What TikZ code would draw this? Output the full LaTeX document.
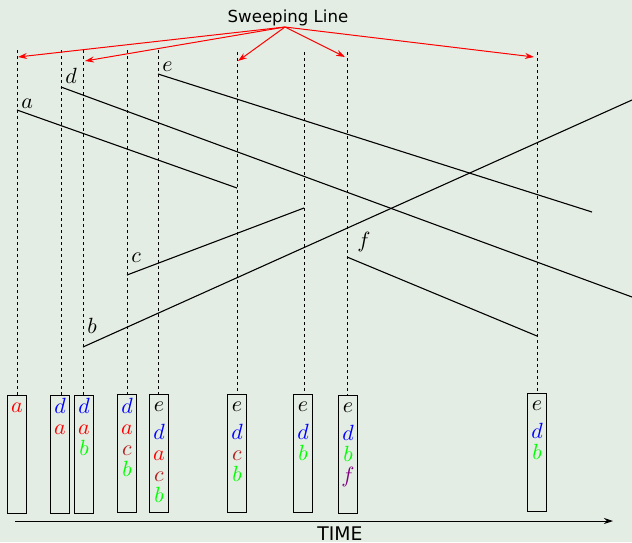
\RequirePackage{fix-cm}
\documentclass[tikz,border=0pt]{standalone}
\usepackage{fontspec}
\usepackage{tikz}
\usetikzlibrary{calc,arrows.meta}

\newfontfamily\labelfont{DejaVu Sans}
\definecolor{bg}{RGB}{228,237,228}
\definecolor{cred}{RGB}{180,30,30}

\tikzset{
  evline/.style={dash pattern=on 1.6pt off 1.4pt, line width=0.5pt},
  seg/.style={line width=0.55pt},
  evbox/.style={draw, line width=0.55pt, anchor=north, minimum width=9.5pt,
    minimum height=59pt, inner sep=0pt},
  slot/.style={anchor=base, inner sep=0pt, font=\fontsize{11}{13}\selectfont},
  lbl/.style={anchor=base west, inner sep=0pt, font=\fontsize{11}{13}\selectfont},
  sweeparrow/.style={->, red, line width=0.5pt},
}

\begin{document}
\begin{tikzpicture}[x=0.5pt, y=-0.5pt, >={Stealth[length=4.5pt,width=3pt]}]

% Canvas (pixel units, y down)
\useasboundingbox (0,0) rectangle (632,542);
\fill[bg] (0,0) rectangle (632,542);

% Event lines and status boxes: n / line x / line top / box x / box top
\foreach \n/\x/\ty/\bx/\by in {1/17/50/17/395, 2/61/50/60/395, 3/83/50/84/395,
    4/127/50/127/394, 5/158/50/159/394, 6/237/52/237/394, 7/304/52/303/394,
    8/347/52/348/395, 9/537/52/537/393} {
  \coordinate (v\n) at (\x,\ty);
  \node[evbox] (box\n) at (\bx,\by) {};
  \draw[evline] (v\n) -- (v\n |- box\n.north);
}

% Sweeping line title and its arrows
\coordinate (hub) at (285,27);
\node[anchor=base, inner sep=0pt, font=\labelfont\fontsize{8.3}{10}\selectfont]
  (sweep) at (288,22) {Sweeping Line};
\foreach \n/\dx/\dy in {1/1/7, 3/2/11, 6/1/9, 8/-2/5, 9/-3/5} {
  \coordinate (s\n) at ($(v\n)+(\dx,\dy)$);
  \draw[sweeparrow] (hub) -- (s\n);
}

% Segments
\coordinate (a0) at (17,110);  \coordinate (a1) at (237,188);
\coordinate (b0) at (83,347);  \coordinate (b1) at (632,100);
\coordinate (c0) at (127,275); \coordinate (c1) at (304,208);
\coordinate (d0) at (61,87);   \coordinate (d1) at (632,297);
\coordinate (e0) at (158,74);  \coordinate (e1) at (592,212);
\coordinate (f0) at (347,257); \coordinate (f1) at (537,336);

\foreach \s in {a,b,c,d,e,f}
  \draw[seg] (\s0) -- (\s1);

% Segment names
\node[lbl] (la) at (21,108) {$a$};
\node[lbl] (lb) at (87,333) {$b$};
\node[lbl] (lc) at (131,262) {$c$};
\node[lbl] (ld) at (65,83) {$d$};
\node[lbl] (le) at (162,71) {$e$};
\node[lbl] (lf) at (357,247) {$f$};

% Status contents, top to bottom
\foreach \l/\c/\dy [count=\i] in {a/red/17}
  \node[slot, text=\c] (q1-\i) at ($(box1.north)+(0,\dy)$) {$\l$};
\foreach \l/\c/\dy [count=\i] in {d/blue/18, a/red/39}
  \node[slot, text=\c] (q2-\i) at ($(box2.north)+(0,\dy)$) {$\l$};
\foreach \l/\c/\dy [count=\i] in {d/blue/18, a/red/39, b/green/60}
  \node[slot, text=\c] (q3-\i) at ($(box3.north)+(0,\dy)$) {$\l$};
\foreach \l/\c/\dy [count=\i] in {d/blue/19, a/red/40, c/cred/61, b/green/82}
  \node[slot, text=\c] (q4-\i) at ($(box4.north)+(0,\dy)$) {$\l$};
\foreach \l/\c/\dy [count=\i] in {e/black/17, d/blue/45, a/red/66, c/cred/87, b/green/108}
  \node[slot, text=\c] (q5-\i) at ($(box5.north)+(0,\dy)$) {$\l$};
\foreach \l/\c/\dy [count=\i] in {e/black/17, d/blue/45, c/cred/66, b/green/87}
  \node[slot, text=\c] (q6-\i) at ($(box6.north)+(0,\dy)$) {$\l$};
\foreach \l/\c/\dy [count=\i] in {e/black/17, d/blue/45, b/green/66}
  \node[slot, text=\c] (q7-\i) at ($(box7.north)+(0,\dy)$) {$\l$};
\foreach \l/\c/\dy [count=\i] in {e/black/17, d/blue/45, b/green/66, f/violet/87}
  \node[slot, text=\c] (q8-\i) at ($(box8.north)+(0,\dy)$) {$\l$};
\foreach \l/\c/\dy [count=\i] in {e/black/17, d/blue/45, b/green/66}
  \node[slot, text=\c] (q9-\i) at ($(box9.north)+(0,\dy)$) {$\l$};

% Time axis
\coordinate (t0) at (15,521);
\coordinate (t1) at (613,521);
\draw[->, line width=0.5pt] (t0) -- (t1);
\node[anchor=base, inner sep=0pt, font=\labelfont\fontsize{9.4}{11}\selectfont]
  (time) at (340,540) {TIME};

\end{tikzpicture}
\end{document}
